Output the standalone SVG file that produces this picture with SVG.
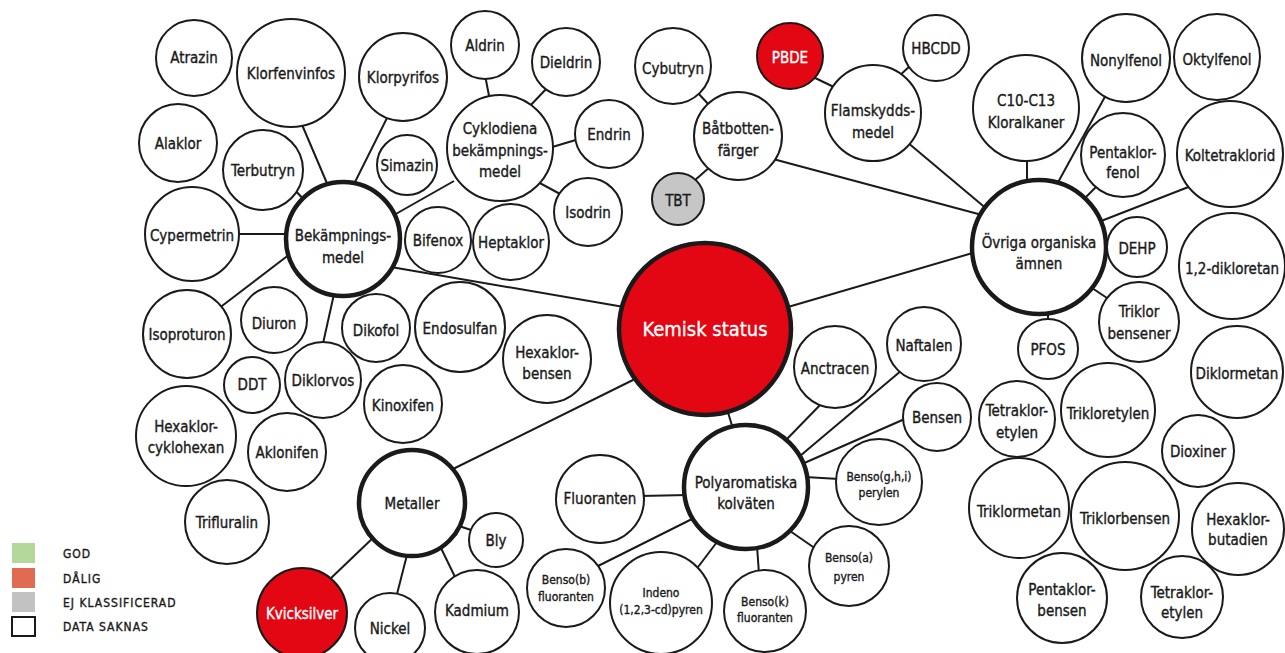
<svg xmlns="http://www.w3.org/2000/svg" width="1285" height="653" viewBox="0 0 1285 653">
<style>
.n{fill:#fff;stroke:#1a1a1a;stroke-width:2}
.hub{stroke-width:4.5}
.red{fill:#e30613}
.gray{fill:#c6c6c6}
.c line{stroke:#1a1a1a;stroke-width:2}
text{font-family:"DejaVu Sans Condensed","DejaVu Sans",sans-serif;font-stretch:condensed;font-size:15px;fill:#1a1a1a;stroke:#1a1a1a;stroke-width:0.35px;text-anchor:middle}
.s{font-size:12px}
.w{fill:#fff;stroke:#fff}
.big{font-size:20px}
.lg{font-size:12px;text-anchor:start;letter-spacing:1px}
</style>
<rect width="1285" height="653" fill="#fff"/>
<g id="connectors" class="c">
<line x1="300" y1="120" x2="329" y2="188"/>
<line x1="389" y1="114" x2="353" y2="186"/>
<line x1="293" y1="188" x2="306" y2="202"/>
<line x1="454" y1="181" x2="394" y2="215"/>
<line x1="235" y1="234" x2="291" y2="234"/>
<line x1="218" y1="309" x2="290" y2="254"/>
<line x1="334" y1="294" x2="322" y2="348"/>
<line x1="391" y1="267" x2="624" y2="307"/>
<line x1="485" y1="75" x2="490" y2="101"/>
<line x1="548" y1="87" x2="528" y2="108"/>
<line x1="579" y1="139" x2="549" y2="148"/>
<line x1="562" y1="195" x2="536" y2="181"/>
<line x1="697" y1="92" x2="710" y2="106"/>
<line x1="694" y1="181" x2="711" y2="166"/>
<line x1="811" y1="76" x2="838" y2="89"/>
<line x1="911" y1="65" x2="897" y2="78"/>
<line x1="773" y1="159" x2="982" y2="215"/>
<line x1="907" y1="142" x2="988" y2="210"/>
<line x1="1027" y1="157" x2="1027" y2="185"/>
<line x1="1107" y1="93" x2="1056" y2="186"/>
<line x1="1098" y1="185" x2="1082" y2="201"/>
<line x1="1191" y1="186" x2="1096" y2="223"/>
<line x1="1103" y1="247" x2="1110" y2="247"/>
<line x1="1086" y1="284" x2="1110" y2="300"/>
<line x1="1048" y1="311" x2="1048" y2="323"/>
<line x1="788" y1="307" x2="976" y2="252"/>
<line x1="727" y1="409" x2="733" y2="429"/>
<line x1="637" y1="378" x2="451" y2="470"/>
<line x1="786" y1="440" x2="822" y2="403"/>
<line x1="800" y1="456" x2="902" y2="370"/>
<line x1="802" y1="464" x2="907" y2="418"/>
<line x1="805" y1="477" x2="839" y2="479"/>
<line x1="790" y1="531" x2="816" y2="549"/>
<line x1="757" y1="546" x2="759" y2="574"/>
<line x1="717" y1="542" x2="695" y2="571"/>
<line x1="694" y1="518" x2="596" y2="567"/>
<line x1="640" y1="496" x2="688" y2="495"/>
<line x1="456" y1="525" x2="474" y2="531"/>
<line x1="439" y1="544" x2="456" y2="579"/>
<line x1="408" y1="551" x2="396" y2="598"/>
<line x1="375" y1="536" x2="329" y2="580"/>
</g>
<g id="kemisk"><circle class="n hub red" cx="705" cy="329" r="86"/><text class="w big" x="705" y="336">Kemisk status</text></g>
<g id="bekampningsmedel"><circle class="n hub" cx="343" cy="239" r="57"/><text x="343" y="241">Bekämpnings-</text><text x="343" y="263">medel</text></g>
<g id="cyklodiena"><circle class="n" cx="500" cy="148" r="53"/><text x="500" y="134">Cyklodiena</text><text x="500" y="156">bekämpnings-</text><text x="500" y="177">medel</text></g>
<g id="aldrin"><circle class="n" cx="485" cy="45" r="34"/><text x="485" y="51">Aldrin</text></g>
<g id="dieldrin"><circle class="n" cx="566" cy="62" r="34"/><text x="566" y="68">Dieldrin</text></g>
<g id="endrin"><circle class="n" cx="609" cy="134" r="34"/><text x="609" y="140">Endrin</text></g>
<g id="isodrin"><circle class="n" cx="588" cy="212" r="34"/><text x="588" y="218">Isodrin</text></g>
<g id="heptaklor"><circle class="n" cx="511" cy="242" r="38"/><text x="511" y="248">Heptaklor</text></g>
<g id="bifenox"><circle class="n" cx="438" cy="240" r="33"/><text x="438" y="246">Bifenox</text></g>
<g id="cybutryn"><circle class="n" cx="673" cy="66" r="38"/><text x="673" y="74">Cybutryn</text></g>
<g id="batbottenfarger"><circle class="n" cx="738" cy="136" r="44"/><text x="738" y="134">Båtbotten-</text><text x="738" y="156">färger</text></g>
<g id="tbt"><circle class="n gray" cx="678" cy="199" r="26"/><text x="678" y="206">TBT</text></g>
<g id="pbde"><circle class="n red" cx="790" cy="56" r="33"/><text class="w" x="790" y="63">PBDE</text></g>
<g id="hbcdd"><circle class="n" cx="936" cy="48" r="33"/><text x="936" y="54">HBCDD</text></g>
<g id="flamskyddsmedel"><circle class="n" cx="873" cy="113" r="48"/><text x="873" y="116">Flamskydds-</text><text x="873" y="138">medel</text></g>
<g id="c10c13"><circle class="n" cx="1026" cy="108" r="53"/><text x="1026" y="106">C10-C13</text><text x="1026" y="128">Kloralkaner</text></g>
<g id="nonylfenol"><circle class="n" cx="1126" cy="58" r="44"/><text x="1126" y="66">Nonylfenol</text></g>
<g id="oktylfenol"><circle class="n" cx="1217" cy="57" r="43"/><text x="1217" y="65">Oktylfenol</text></g>
<g id="pentaklorfenol"><circle class="n" cx="1123" cy="155" r="42"/><text x="1123" y="158">Pentaklor-</text><text x="1123" y="178">fenol</text></g>
<g id="koltetraklorid"><circle class="n" cx="1230" cy="154" r="53"/><text x="1230" y="161">Koltetraklorid</text></g>
<g id="ovriga"><circle class="n hub" cx="1039" cy="247" r="67"/><text x="1039" y="248">Övriga organiska</text><text x="1039" y="269">ämnen</text></g>
<g id="dehp"><circle class="n" cx="1137" cy="247" r="30"/><text x="1137" y="254">DEHP</text></g>
<g id="dikloretan"><circle class="n" cx="1232" cy="266" r="53"/><text x="1232" y="274">1,2-dikloretan</text></g>
<g id="triklorbensener"><circle class="n" cx="1139" cy="322" r="40"/><text x="1139" y="317">Triklor</text><text x="1139" y="339">bensener</text></g>
<g id="pfos"><circle class="n" cx="1048" cy="349" r="30"/><text x="1048" y="355">PFOS</text></g>
<g id="diklormetan"><circle class="n" cx="1237" cy="372" r="46"/><text x="1237" y="379">Diklormetan</text></g>
<g id="tetrakloretylen1"><circle class="n" cx="1017" cy="419" r="38"/><text x="1017" y="416">Tetraklor-</text><text x="1017" y="438">etylen</text></g>
<g id="trikloretylen"><circle class="n" cx="1108" cy="410" r="47"/><text x="1108" y="419">Trikloretylen</text></g>
<g id="dioxiner"><circle class="n" cx="1198" cy="451" r="36"/><text x="1198" y="457">Dioxiner</text></g>
<g id="triklormetan"><circle class="n" cx="1019" cy="508" r="50"/><text x="1019" y="517">Triklormetan</text></g>
<g id="triklorbensen"><circle class="n" cx="1125" cy="516" r="54"/><text x="1125" y="524">Triklorbensen</text></g>
<g id="hexaklorbutadien"><circle class="n" cx="1238" cy="529" r="46"/><text x="1238" y="525">Hexaklor-</text><text x="1238" y="545">butadien</text></g>
<g id="pentaklorbensen"><circle class="n" cx="1062" cy="598" r="45"/><text x="1062" y="595">Pentaklor-</text><text x="1062" y="616">bensen</text></g>
<g id="tetrakloretylen2"><circle class="n" cx="1182" cy="597" r="41"/><text x="1182" y="598">Tetraklor-</text><text x="1182" y="618">etylen</text></g>
<g id="pah"><circle class="n hub" cx="746" cy="487" r="62"/><text x="746" y="488">Polyaromatiska</text><text x="746" y="509">kolväten</text></g>
<g id="anctracen"><circle class="n" cx="835" cy="367" r="41"/><text x="835" y="374">Anctracen</text></g>
<g id="naftalen"><circle class="n" cx="924" cy="344" r="37"/><text x="924" y="351">Naftalen</text></g>
<g id="bensen"><circle class="n" cx="937" cy="417" r="34"/><text x="937" y="423">Bensen</text></g>
<g id="bensoghi"><circle class="n" cx="879" cy="482" r="43"/><text class="s" x="879" y="481">Benso(g,h,i)</text><text class="s" x="879" y="497">perylen</text></g>
<g id="bensoa"><circle class="n" cx="849" cy="566" r="40"/><text class="s" x="849" y="562">Benso(a)</text><text class="s" x="849" y="581">pyren</text></g>
<g id="bensok"><circle class="n" cx="765" cy="611" r="41"/><text class="s" x="765" y="606">Benso(k)</text><text class="s" x="765" y="622">fluoranten</text></g>
<g id="indeno"><circle class="n" cx="661" cy="603" r="51"/><text class="s" x="661" y="597">Indeno</text><text class="s" x="661" y="614">(1,2,3-cd)pyren</text></g>
<g id="bensob"><circle class="n" cx="566" cy="588" r="39"/><text class="s" x="566" y="584">Benso(b)</text><text class="s" x="566" y="601">fluoranten</text></g>
<g id="fluoranten"><circle class="n" cx="600" cy="499" r="44"/><text x="600" y="504">Fluoranten</text></g>
<g id="hexaklorbensen"><circle class="n" cx="547" cy="359" r="44"/><text x="547" y="358">Hexaklor-</text><text x="547" y="379">bensen</text></g>
<g id="endosulfan"><circle class="n" cx="460" cy="327" r="45"/><text x="460" y="334">Endosulfan</text></g>
<g id="dikofol"><circle class="n" cx="376" cy="328" r="34"/><text x="376" y="336">Dikofol</text></g>
<g id="kinoxifen"><circle class="n" cx="403" cy="404" r="39"/><text x="403" y="411">Kinoxifen</text></g>
<g id="metaller"><circle class="n hub" cx="412" cy="503" r="53"/><text x="412" y="509">Metaller</text></g>
<g id="bly"><circle class="n" cx="496" cy="540" r="27"/><text x="496" y="546">Bly</text></g>
<g id="kadmium"><circle class="n" cx="477" cy="612" r="42"/><text x="477" y="616">Kadmium</text></g>
<g id="nickel"><circle class="n" cx="390" cy="628" r="35"/><text x="390" y="634">Nickel</text></g>
<g id="kvicksilver"><circle class="n red" cx="302" cy="613" r="45"/><text class="w" x="302" y="619">Kvicksilver</text></g>
<g id="atrazin"><circle class="n" cx="194" cy="58" r="38"/><text x="194" y="63">Atrazin</text></g>
<g id="klorfenvinfos"><circle class="n" cx="291" cy="73" r="54"/><text x="291" y="79">Klorfenvinfos</text></g>
<g id="klorpyrifos"><circle class="n" cx="403" cy="77" r="44"/><text x="403" y="83">Klorpyrifos</text></g>
<g id="alaklor"><circle class="n" cx="178" cy="143" r="39"/><text x="178" y="149">Alaklor</text></g>
<g id="terbutryn"><circle class="n" cx="263" cy="170" r="40"/><text x="263" y="176">Terbutryn</text></g>
<g id="simazin"><circle class="n" cx="407" cy="165" r="30"/><text x="407" y="171">Simazin</text></g>
<g id="cypermetrin"><circle class="n" cx="192" cy="234" r="47"/><text x="192" y="241">Cypermetrin</text></g>
<g id="isoproturon"><circle class="n" cx="187" cy="334" r="44"/><text x="187" y="340">Isoproturon</text></g>
<g id="diuron"><circle class="n" cx="274" cy="320" r="33"/><text x="274" y="329">Diuron</text></g>
<g id="diklorvos"><circle class="n" cx="323" cy="380" r="38"/><text x="323" y="386">Diklorvos</text></g>
<g id="ddt"><circle class="n" cx="252" cy="385" r="28"/><text x="252" y="390">DDT</text></g>
<g id="hexaklorcyklohexan"><circle class="n" cx="186" cy="436" r="50"/><text x="186" y="432">Hexaklor-</text><text x="186" y="453">cyklohexan</text></g>
<g id="aklonifen"><circle class="n" cx="287" cy="452" r="39"/><text x="287" y="458">Aklonifen</text></g>
<g id="trifluralin"><circle class="n" cx="227" cy="522" r="42"/><text x="227" y="528">Trifluralin</text></g>
<g id="legend">
<rect x="12" y="543" width="23" height="20" fill="#b3d89c"/>
<rect x="12" y="568" width="23" height="20" fill="#e06a52"/>
<rect x="12" y="592" width="23" height="20" fill="#c2c2c2"/>
<rect x="12" y="617" width="23" height="19" fill="#fff" stroke="#1a1a1a" stroke-width="2"/>
<text class="lg" x="63" y="558">GOD</text>
<text class="lg" x="63" y="583">DÅLIG</text>
<text class="lg" x="63" y="607">EJ KLASSIFICERAD</text>
<text class="lg" x="63" y="631">DATA SAKNAS</text>
</g>
</svg>
